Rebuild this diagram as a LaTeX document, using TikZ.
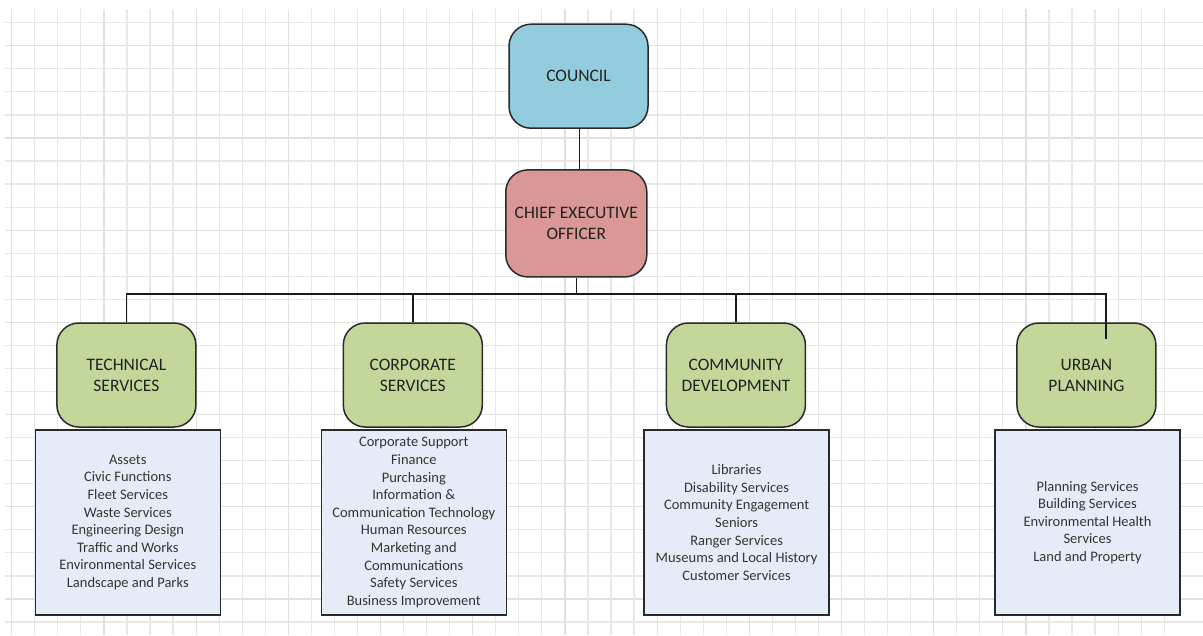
\documentclass[tikz,border=0pt]{standalone}
\usepackage{fontspec}
\setmainfont{Carlito}
\begin{document}
\definecolor{councilfill}{HTML}{93CDDD}
\definecolor{ceofill}{HTML}{D99795}
\definecolor{deptfill}{HTML}{C4D79B}
\definecolor{listfill}{HTML}{E6ECF7}
\definecolor{gridminor}{HTML}{E8E8E8}
\definecolor{gridmajor}{HTML}{E0E0E0}
\definecolor{edgecol}{HTML}{2A2A2A}
\definecolor{textcol}{HTML}{222222}
\begin{tikzpicture}[x=1pt,y=-1pt,
  headbox/.style={draw=edgecol,line width=1.5pt,rounded corners=22pt,
    minimum width=139pt,minimum height=104pt,inner sep=0pt,align=center,
    text=textcol,font=\fontsize{17.5pt}{21pt}\selectfont},
  listbox/.style={draw=edgecol,line width=1.6pt,fill=listfill,
    minimum width=185pt,minimum height=185pt,inner sep=0pt,align=center,
    text=textcol!92,font=\fontsize{14.5pt}{17.6pt}\selectfont},
  link/.style={draw=black!90,line width=1.6pt}]
\useasboundingbox (0,0) rectangle (1203,635);
\fill[white] (0,0) rectangle (1203,635);
% background grid, every fourth line a touch darker
\foreach \k in {0,...,26}{
  \pgfmathtruncatemacro{\m}{mod(\k,4)}
  \ifnum\m=1
    \draw[gridmajor,line width=1.2pt] (5,22.7+23.05*\k) -- (1203,22.7+23.05*\k);
  \else
    \draw[gridminor,line width=1.2pt] (5,22.7+23.05*\k) -- (1203,22.7+23.05*\k);
  \fi}
\foreach \k in {0,...,50}{
  \pgfmathtruncatemacro{\m}{mod(\k,4)}
  \ifnum\m=0
    \draw[gridmajor,line width=1.2pt] (11.7+23.05*\k,9) -- (11.7+23.05*\k,635);
  \else
    \draw[gridminor,line width=1.2pt] (11.7+23.05*\k,9) -- (11.7+23.05*\k,635);
  \fi}

% top of the hierarchy
\node[headbox,fill=councilfill] (council) at (578.5,76.2) {COUNCIL};
\node[headbox,fill=ceofill,minimum width=141pt,minimum height=107pt] (ceo) at (576.3,223.4) {CHIEF EXECUTIVE\\OFFICER};

% departments
\node[headbox,fill=deptfill] (tech)  at (126.4,375) {TECHNICAL\\SERVICES};
\node[headbox,fill=deptfill] (corp)  at (412.8,375) {CORPORATE\\SERVICES};
\node[headbox,fill=deptfill] (comm)  at (735.9,375) {COMMUNITY\\DEVELOPMENT};
\node[headbox,fill=deptfill] (urban) at (1086.4,375) {URBAN\\PLANNING};

% service lists
\node[listbox] (techlist) at (127.8,522.5) {Assets\\Civic Functions\\Fleet Services\\Waste Services\\Engineering Design\\Traffic and Works\\Environmental Services\\Landscape and Parks};
\node[listbox] (corplist) at (413.8,522.5) {Corporate Support\\Finance\\Purchasing\\Information \&\\Communication Technology\\Human Resources\\Marketing and\\Communications\\Safety Services\\Business Improvement};
\node[listbox] (commlist) at (736.6,522.5) {Libraries\\Disability Services\\Community Engagement\\Seniors\\Ranger Services\\Museums and Local History\\Customer Services};
\node[listbox] (urbanlist) at (1087.5,522.5) {Planning Services\\Building Services\\Environmental Health\\Services\\Land and Property};

% connectors
\coordinate (bus) at (0,293.8);
\coordinate (urbanstub) at (1105.7,339.3);
\draw[link] (council.south -| 579.3,0) -- (579.3,0 |- ceo.north);
\draw[link] (ceo.south) -- (ceo.south |- bus);
\draw[link] (tech.north) -- (tech.north |- bus) -- (bus -| urbanstub) -- (urbanstub);
\draw[link] (corp.north) -- (corp.north |- bus);
\draw[link] (comm.north) -- (comm.north |- bus);
\end{tikzpicture}
\end{document}
